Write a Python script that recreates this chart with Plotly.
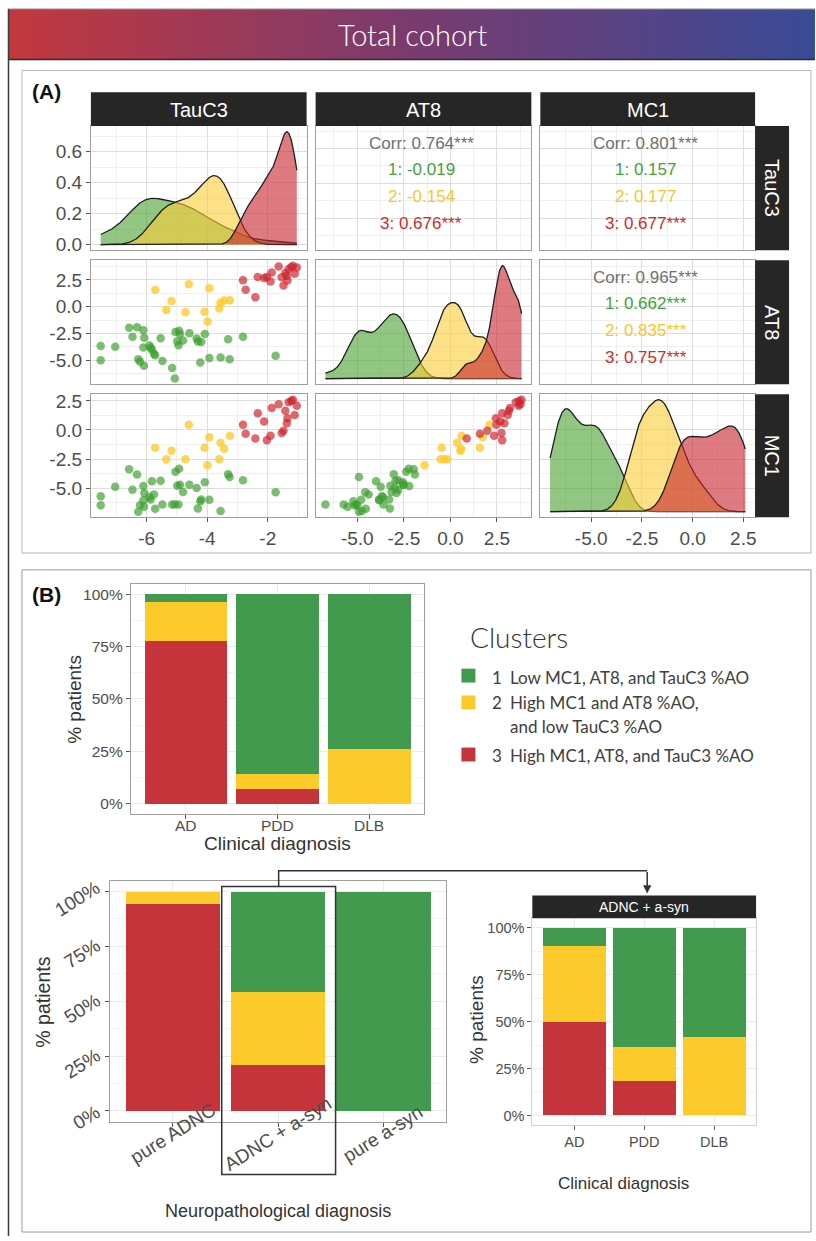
import numpy as np
import plotly.graph_objects as go

W, H = 816, 1241
FONT = "Liberation Sans, Arial, sans-serif"
LFONT = "Lato, Open Sans, sans-serif"

# ---------------- data ----------------
variables = ["TauC3", "AT8", "MC1"]
clusters = ["1", "2", "3"]

# cluster 1 (green)
tauc3_c1 = [-7.52, -7.52, -7.04, -6.58, -6.47, -6.32, -6.11, -6.08, -6.11, -5.91, -5.87, -5.83, -5.76,
            -5.72, -6.28, -6.22, -6.09, -5.48, -5.54, -5.16, -5.07, -5.05, -4.93, -4.90, -4.99, -4.95,
            -4.80, -4.59, -4.35, -4.31, -4.20, -4.08, -4.23, -3.93, -3.56, -3.26, -3.31, -2.82, -1.74]
at8_c1 = [-3.68, -5.00, -3.74, -1.97, -2.80, -1.91, -2.21, -2.89, -3.81, -3.62, -3.84, -3.99, -4.39,
          -4.54, -4.91, -5.15, -5.52, -5.06, -2.95, -5.73, -6.71, -2.37, -2.24, -2.55, -3.22, -3.59,
          -3.16, -2.49, -2.98, -3.25, -3.29, -2.55, -5.21, -4.79, -4.75, -4.91, -3.04, -2.80, -4.57]
mc1_c1 = [-5.70, -6.47, -4.89, -3.39, -5.14, -3.84, -4.83, -5.42, -6.04, -5.76, -5.98, -4.41, -5.56,
          -6.78, -7.03, -6.47, -6.60, -6.41, -4.38, -6.41, -6.41, -3.59, -3.34, -4.72, -4.80, -6.41,
          -5.34, -4.72, -5.00, -6.75, -5.99, -4.49, -6.13, -6.00, -6.97, -4.04, -3.82, -4.32, -5.37]
# cluster 2 (yellow)
tauc3_c2 = [-5.72, -5.18, -5.35, -4.61, -4.72, -4.09, -3.99, -3.93, -3.60, -3.56, -3.44, -3.25]
at8_c2 = [1.58, 0.54, -0.32, 2.10, -0.53, -0.47, -1.39, 1.73, -0.16, 0.36, 0.57, 0.60]
mc1_c2 = [-1.53, -1.79, -2.52, 0.44, -2.52, -1.53, -3.03, -0.63, -2.52, -1.11, -1.62, -0.49]
# cluster 3 (red)
tauc3_c3 = [-2.82, -2.73, -2.41, -2.33, -2.12, -2.03, -1.91, -1.87, -1.64, -1.54, -1.48, -1.42, -1.37,
            -1.31, -1.22, -1.17, -1.11, -1.04, -1.35]
at8_c3 = [2.47, 1.58, 0.88, 2.78, 2.68, 2.78, 2.35, 3.20, 3.76, 2.74, 1.98, 3.14, 2.90, 3.51, 3.69,
          3.82, 3.08, 3.66, 2.44]
mc1_c3 = [0.44, -0.32, -0.74, 1.43, 0.72, -0.88, -0.49, 1.88, 2.22, -0.26, -0.07, 1.65, 0.58, 2.39,
          2.50, 2.60, 1.29, 2.08, 1.00]

corr_tauc3_at8 = ["Corr: 0.764***", "1: -0.019", "2: -0.154", "3: 0.676***"]
corr_tauc3_mc1 = ["Corr: 0.801***", "1: 0.157", "2: 0.177", "3: 0.677***"]
corr_at8_mc1 = ["Corr: 0.965***", "1: 0.662***", "2: 0.835***", "3: 0.757***"]

tauc3_tickvals = [-6, -4, -2]
tauc3_ticktext = ["-6", "-4", "-2"]
tauc3_minor = [-7, -5, -3, -1]
at8_tickvals = [-5, -2.5, 0, 2.5]
at8_ticktext = ["-5.0", "-2.5", "0.0", "2.5"]
at8_minor = [-6.25, -3.75, -1.25, 1.25, 3.75]
mc1_tickvals = [-5, -2.5, 0, 2.5]
mc1_ticktext = ["-5.0", "-2.5", "0.0", "2.5"]
mc1_minor = [-6.25, -3.75, -1.25, 1.25]
dens_tickvals = [0, 0.2, 0.4, 0.6]
dens_ticktext = ["0.0", "0.2", "0.4", "0.6"]
dens_minor = [0.1, 0.3, 0.5, 0.7]

cluster_numbers = ["1", "2", "3"]
cluster_text = [["Low MC1, AT8, and TauC3 %AO"],
                ["High MC1 and AT8 %AO,", "and low TauC3 %AO"],
                ["High MC1, AT8, and TauC3 %AO"]]

clin_dx = ["AD", "PDD", "DLB"]
clin_c1 = [3.7, 85.7, 73.9]
clin_c2 = [18.5, 7.2, 26.1]
clin_c3 = [77.8, 7.1, 0.0]

neuro_dx = ["pure ADNC", "ADNC + a-syn", "pure a-syn"]
neuro_c1 = [0.0, 45.8, 100.0]
neuro_c2 = [5.9, 33.4, 0.0]
neuro_c3 = [94.1, 20.8, 0.0]

mixed_dx = ["AD", "PDD", "DLB"]
mixed_c1 = [10.0, 63.6, 58.3]
mixed_c2 = [40.0, 18.2, 41.7]
mixed_c3 = [50.0, 18.2, 0.0]

pct_tickvals = [0, 25, 50, 75, 100]
pct_ticktext = ["0%", "25%", "50%", "75%", "100%"]
pct_minor = [12.5, 37.5, 62.5, 87.5]

# ---------------- styles ----------------
GRN, YEL, RED = "#429A4F", "#FDCA2B", "#C5343B"
pt_col = {"1": "rgba(60,158,45,0.68)", "2": "rgba(253,202,42,0.78)", "3": "rgba(206,32,42,0.68)"}
dens_fill = {"1": "rgba(66,158,40,0.58)", "2": "rgba(252,205,55,0.6)", "3": "rgba(200,35,45,0.6)"}
txt_col = {"1": "#45a23a", "2": "#f9c62a", "3": "#cf2b31"}
STRIP = "#262626"
GRID = "#dedede"
MINOR = "#efefef"
BORDER = "#9e9e9e"
TICKC = "#4d4d4d"

data = {
    "TauC3": {"1": tauc3_c1, "2": tauc3_c2, "3": tauc3_c3},
    "AT8": {"1": at8_c1, "2": at8_c2, "3": at8_c3},
    "MC1": {"1": mc1_c1, "2": mc1_c2, "3": mc1_c3},
}
ticks = {
    "TauC3": (tauc3_tickvals, tauc3_ticktext, tauc3_minor),
    "AT8": (at8_tickvals, at8_ticktext, at8_minor),
    "MC1": (mc1_tickvals, mc1_ticktext, mc1_minor),
}
corr_text = {(0, 1): corr_tauc3_at8, (0, 2): corr_tauc3_mc1, (1, 2): corr_at8_mc1}


def allvals(v):
    return np.concatenate([np.asarray(data[v][c], float) for c in clusters])


rng = {}
for v in variables:
    a = allvals(v)
    lo, hi = a.min(), a.max()
    rng[v] = [lo - 0.05 * (hi - lo), hi + 0.05 * (hi - lo)]


def kde(vals, grid):
    v = np.asarray(vals, float)
    n = len(v)
    sd = v.std(ddof=1)
    q75, q25 = np.percentile(v, [75, 25])
    bw = 0.9 * min(sd, (q75 - q25) / 1.34) * n ** (-0.2)
    z = (grid[:, None] - v[None, :]) / bw
    return np.exp(-0.5 * z ** 2).sum(axis=1) / (n * bw * np.sqrt(2 * np.pi))


def xdom(a, b):
    return [a / W, b / W]


def ydom(top, bottom):
    return [1 - bottom / H, 1 - top / H]


def px(x):
    return x / W


def py(y):
    return 1 - y / H


fig = go.Figure()
layout = {}
annotations = []
shapes = []


def ann(text, x, y, size, color="#333333", family=FONT, xanchor="center", yanchor="middle", angle=0,
        xref="paper", yref="paper", weight=None, yshift=0):
    f = dict(family=family, size=size, color=color)
    if weight is not None:
        f["weight"] = weight
    annotations.append(dict(text=text, x=x, y=y, xref=xref, yref=yref, xanchor=xanchor, yanchor=yanchor,
                            showarrow=False, textangle=angle, font=f, yshift=yshift))


col_px = [(91, 307), (316, 532), (541, 756)]
row_px = [(123, 248), (258, 383), (393, 517)]


def axkey(k, letter):
    return f"{letter}axis" + ("" if k == 1 else str(k))


def axref(k, letter):
    return letter + ("" if k == 1 else str(k))


base_axis = dict(showgrid=True, gridcolor=GRID, gridwidth=1, zeroline=False, showline=True, mirror=True,
                 linecolor=BORDER, linewidth=1, ticks="outside", ticklen=4, tickcolor="#555555",
                 tickfont=dict(family=FONT, size=19, color=TICKC), fixedrange=True)

# ---------------- banner ----------------
kb = 20
layout[axkey(kb, "x")] = dict(domain=xdom(8, 816), anchor=axref(kb, "y"), range=[0, 1], visible=False, fixedrange=True)
layout[axkey(kb, "y")] = dict(domain=ydom(5, 56), anchor=axref(kb, "x"), range=[0, 1], visible=False, fixedrange=True)
fig.add_trace(go.Heatmap(z=[[0, 1], [0, 1]], x=[0, 1], y=[0, 1], zsmooth="best", showscale=False,
                         colorscale=[[0, "#c3383e"], [0.5, "#7a3b6f"], [1, "#394b96"]],
                         xaxis=axref(kb, "x"), yaxis=axref(kb, "y"), hoverinfo="skip"))
ann("Total cohort", px(413), py(31), 29, "white", LFONT, weight=300)
shapes.append(dict(type="line", xref="paper", yref="paper", x0=px(8), x1=1, y0=py(56), y1=py(56),
                   line=dict(color="#2b2b2b", width=1.5)))
shapes.append(dict(type="line", xref="paper", yref="paper", x0=px(8), x1=1, y0=py(5), y1=py(5),
                   line=dict(color="#999999", width=1)))
shapes.append(dict(type="line", xref="paper", yref="paper", x0=px(8.5), x1=px(8.5), y0=py(5), y1=0,
                   line=dict(color="#3a3a3a", width=1.5)))
# panel boxes
shapes.append(dict(type="rect", xref="paper", yref="paper", x0=px(22), x1=px(812), y0=py(67), y1=py(553),
                   line=dict(color="#b5b5b5", width=1)))
shapes.append(dict(type="rect", xref="paper", yref="paper", x0=px(22), x1=px(812), y0=py(570), y1=py(1237),
                   line=dict(color="#9a9a9a", width=1)))
ann("<b>(A)</b>", px(30), py(88), 21, "#111111", xanchor="left")
ann("<b>(B)</b>", px(30), py(595), 21, "#111111", xanchor="left")

# ---------------- panel A: pairs plot ----------------
for r in range(3):
    for c in range(3):
        k = r * 3 + c + 1
        xv, yv = variables[c], variables[r]
        xa = dict(base_axis)
        tv, tt, tm = ticks[xv]
        xa.update(domain=xdom(*col_px[c]), anchor=axref(k, "y"), range=rng[xv], tickmode="array",
                  tickvals=tv, ticktext=tt, showticklabels=(r == 2), ticks="outside" if r == 2 else "",
                  minor=dict(tickmode="array", tickvals=tm, showgrid=True, gridcolor=MINOR, ticks=""))
        ya = dict(base_axis)
        ya.update(domain=ydom(*row_px[r]), anchor=axref(k, "x"))
        if r == c:
            span = rng[xv][1] - rng[xv][0]
            grid = np.linspace(rng[xv][0] + 0.05 / 1.1 * span, rng[xv][1] - 0.05 / 1.1 * span, 512)
            dens = {cl: kde(data[xv][cl], grid) for cl in clusters}
            m = max(d.max() for d in dens.values())
            for cl in clusters:
                fig.add_trace(go.Scatter(x=grid, y=dens[cl], mode="lines", fill="tozeroy",
                                         fillcolor=dens_fill[cl], line=dict(color="#1e1e1e", width=1.3),
                                         xaxis=axref(k, "x"), yaxis=axref(k, "y"), showlegend=False,
                                         hoverinfo="skip"))
            yr = [-0.05 * m, 1.05 * m]
            if r == 0:
                ya.update(range=yr, tickmode="array", tickvals=dens_tickvals,
                          ticktext=dens_ticktext, showticklabels=True, ticks="outside",
                          minor=dict(tickmode="array", tickvals=dens_minor, showgrid=True, gridcolor=MINOR,
                                     ticks=""))
            else:
                # grid of the variable's own scale, mapped onto the density panel (as GGally does)
                lo, hi = rng[yv]
                ytv, _, ytm = ticks[yv]
                to_d = lambda t: yr[0] + (t - lo) / (hi - lo) * (yr[1] - yr[0])
                ya.update(range=yr, tickmode="array", tickvals=[to_d(t) for t in ytv],
                          ticktext=[""] * len(ytv), showticklabels=False, ticks="",
                          minor=dict(tickmode="array", tickvals=[to_d(t) for t in ytm], showgrid=True,
                                     gridcolor=MINOR, ticks=""))
        else:
            ytv, ytt, ytm = ticks[yv]
            ya.update(range=rng[yv], tickmode="array", tickvals=ytv, ticktext=ytt,
                      showticklabels=(c == 0), ticks="outside" if c == 0 else "",
                      minor=dict(tickmode="array", tickvals=ytm, showgrid=True, gridcolor=MINOR, ticks=""))
            if r > c:
                for cl in clusters:
                    fig.add_trace(go.Scatter(x=data[xv][cl], y=data[yv][cl], mode="markers",
                                             marker=dict(size=8.5, color=pt_col[cl], line=dict(width=0)),
                                             xaxis=axref(k, "x"), yaxis=axref(k, "y"), showlegend=False,
                                             hoverinfo="skip"))
            else:
                fig.add_trace(go.Scatter(x=[None], y=[None], mode="markers", xaxis=axref(k, "x"),
                                         yaxis=axref(k, "y"), showlegend=False, hoverinfo="skip"))
                lines = corr_text[(r, c)]
                ypos = [0.86, 0.65, 0.435, 0.215]
                colors = ["#707070", txt_col["1"], txt_col["2"], txt_col["3"]]
                for t, yy, cc in zip(lines, ypos, colors):
                    ann(t, 0.49, yy, 17, cc, xref=f"{axref(k, 'x')} domain", yref=f"{axref(k, 'y')} domain")
        layout[axkey(k, "x")] = xa
        layout[axkey(k, "y")] = ya

# strips
for c, v in enumerate(variables):
    x0, x1 = col_px[c]
    shapes.append(dict(type="rect", xref="paper", yref="paper", x0=px(x0), x1=px(x1), y0=py(89), y1=py(123),
                       fillcolor=STRIP, line=dict(width=0), layer="above"))
    ann(v, px((x0 + x1) / 2), py(106.5), 20, "white")
for r, v in enumerate(variables):
    y0, y1 = row_px[r]
    shapes.append(dict(type="rect", xref="paper", yref="paper", x0=px(756), x1=px(790), y0=py(y0), y1=py(y1),
                       fillcolor=STRIP, line=dict(width=0), layer="above"))
    ann(v, px(773), py((y0 + y1) / 2), 20, "white", angle=90)


# ---------------- panel B: stacked bars ----------------
def bar_panel(k, cats, c1, c2, c3, xd, yd, tickfont, border=BORDER, xlabels=True, ylabels=True):
    for vals, col in [(c3, RED), (c2, YEL), (c1, GRN)]:
        fig.add_trace(go.Bar(x=cats, y=vals, marker=dict(color=col, line=dict(width=0)), width=0.9,
                             xaxis=axref(k, "x"), yaxis=axref(k, "y"), showlegend=False, hoverinfo="skip"))
    xa = dict(base_axis)
    xa.update(domain=xd, anchor=axref(k, "y"), type="category", range=[-0.6, len(cats) - 0.4],
              gridcolor="#ebebeb", linecolor=border, showticklabels=xlabels,
              tickfont=dict(family=FONT, size=tickfont, color=TICKC))
    ya = dict(base_axis)
    ya.update(domain=yd, anchor=axref(k, "x"), range=[-5, 105], tickmode="array", tickvals=pct_tickvals,
              ticktext=pct_ticktext, linecolor=border, gridcolor="#ebebeb", showticklabels=ylabels,
              tickfont=dict(family=FONT, size=tickfont, color=TICKC),
              minor=dict(tickmode="array", tickvals=pct_minor, showgrid=True, gridcolor="#f4f4f4", ticks=""))
    layout[axkey(k, "x")] = xa
    layout[axkey(k, "y")] = ya


bar_panel(11, clin_dx, clin_c1, clin_c2, clin_c3, xdom(131, 425), ydom(584, 816), 15.5, xlabels=False)
bar_panel(12, neuro_dx, neuro_c1, neuro_c2, neuro_c3, xdom(110, 447), ydom(883, 1126), 19,
          xlabels=False, ylabels=False)
bar_panel(13, mixed_dx, mixed_c1, mixed_c2, mixed_c3, xdom(533, 757), ydom(921, 1129), 14.5, border="#d0d0d0")

# x tick labels of the clinical panel
for cat in clin_dx:
    ann(cat, cat, py(828), 15.5, TICKC, xref="x11")
# rotated tick labels of the neuropathological panel
for cat in neuro_dx:
    ann(cat, cat, py(1138), 19, TICKC, angle=-32, xref="x12")
for val, lab in zip(pct_tickvals, pct_ticktext):
    ann(lab, px(107), val, 19, TICKC, xanchor="right", angle=-32, yref="y12", yshift=-7)

ann("% patients", px(75), py(700), 19, angle=-90)
ann("Clinical diagnosis", px(278), py(846), 19)
ann("% patients", px(43), py(1005), 19.5, angle=-90)
ann("Neuropathological diagnosis", px(278), py(1216), 18)
ann("% patients", px(477), py(1023), 19, angle=-90)
ann("Clinical diagnosis", px(624), py(1188), 17)

# strip of the mixed panel
shapes.append(dict(type="rect", xref="paper", yref="paper", x0=px(533), x1=px(757), y0=py(898), y1=py(921),
                   fillcolor=STRIP, line=dict(width=0)))
ann("ADNC + a-syn", px(645), py(909.5), 14, "white")

# highlight box and connector
shapes.append(dict(type="rect", xref="paper", yref="paper", x0=px(222), x1=px(336), y0=py(889), y1=py(1179),
                   line=dict(color="#333333", width=1.5), layer="above"))
shapes.append(dict(type="path", xref="paper", yref="paper",
                   path=f"M {px(279)} {py(889)} L {px(279)} {py(873)} L {px(648)} {py(873)}",
                   line=dict(color="#333333", width=1.5)))
annotations.append(dict(text="", x=px(648), y=py(896), xref="paper", yref="paper", ax=0, ay=-23,
                        showarrow=True, arrowhead=2, arrowsize=1.1, arrowwidth=1.5, arrowcolor="#333333"))

# legend (Clusters)
ann("Clusters", px(469), py(638), 28, "#333333", LFONT, xanchor="left", weight=300)
sq_y = [676.5, 703.5, 756]
text_y = [[678], [704, 728], [757]]
for num, lines, sy, tys, col in zip(cluster_numbers, cluster_text, sq_y, text_y, [GRN, YEL, RED]):
    shapes.append(dict(type="rect", xref="paper", yref="paper", x0=px(462), x1=px(476), y0=py(sy - 7),
                       y1=py(sy + 7), fillcolor=col, line=dict(width=0)))
    ann(num, px(491), py(tys[0]), 17, "#404040", LFONT, xanchor="left")
    for ln, ty in zip(lines, tys):
        ann(ln, px(509), py(ty), 17, "#404040", LFONT, xanchor="left")

layout.update(width=W, height=H, margin=dict(l=0, r=0, t=0, b=0), paper_bgcolor="white",
              plot_bgcolor="white", barmode="stack", showlegend=False, annotations=annotations,
              shapes=shapes, font=dict(family=FONT))
fig.update_layout(**layout)
fig.write_html("out.html", config={"staticPlot": True})
